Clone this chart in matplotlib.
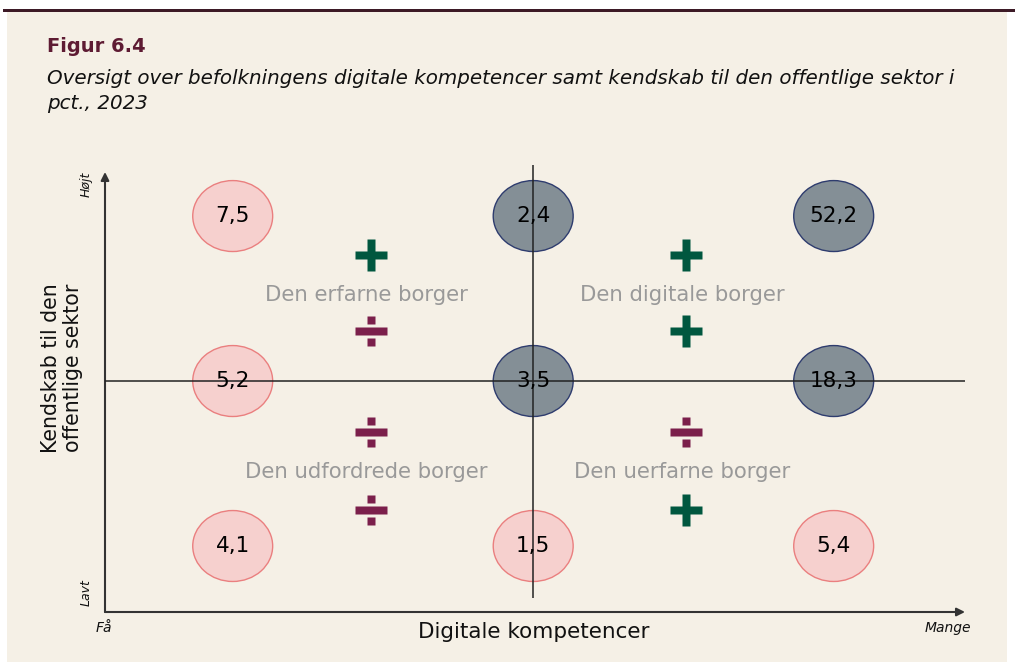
import numpy as np
import matplotlib
matplotlib.use("Agg")
import matplotlib.pyplot as plt
from matplotlib.patches import Ellipse, Rectangle
from matplotlib.path import Path

# values per cell, rows from bottom (Lavt) to top (Højt), columns Få -> Mange
values = [
    ["4,1", "1,5", "5,4"],
    ["5,2", "3,5", "18,3"],
    ["7,5", "2,4", "52,2"],
]
# which cells are drawn dark (the digitally skilled, informed group)
dark = [
    [False, False, False],
    [False, True, True],
    [False, True, True],
]
quadrant_labels = ["Den erfarne borger", "Den digitale borger",
                   "Den udfordrede borger", "Den uerfarne borger"]
# signs next to each quadrant label: (top sign, bottom sign)
quadrant_signs = [("+", "÷"), ("+", "+"), ("÷", "÷"), ("÷", "+")]

title = "Figur 6.4"
subtitle = ("Oversigt over befolkningens digitale kompetencer samt kendskab til den offentlige sektor i\n"
            "pct., 2023")
xlabel = "Digitale kompetencer"
ylabel = "Kendskab til den\noffentlige sektor"

BG = "#f5f0e6"
MAROON = "#5e1b33"
GREEN = "#00573f"
PURPLE = "#7b1f4b"
GREY_TXT = "#999999"

W, H = 1015, 662
fig = plt.figure(figsize=(W / 100, H / 100), dpi=100)
fig.patch.set_facecolor("white")


def fx(px):
    return px / W


def fy(py):
    return 1 - py / H


fig.patches.append(Rectangle((fx(7), fy(662)), fx(1000), fy(11) - fy(662),
                             transform=fig.transFigure, facecolor=BG, edgecolor="none", zorder=-5))
fig.patches.append(Rectangle((fx(3), fy(12)), fx(1012), fy(9) - fy(12),
                             transform=fig.transFigure, facecolor="#3d1a26", edgecolor="none", zorder=-4))

fig.text(fx(47), fy(46), title, fontsize=14, fontweight="bold", color=MAROON, va="center")
fig.text(fx(47), fy(91), subtitle, fontsize=14.3, style="italic", color="#111111",
         va="center", linespacing=1.35)

# axes: columns 0..2, rows 0..2
ax = fig.add_axes([fx(105), fy(612), fx(965) - fx(105), fy(172) - fy(612)])
ax.set_facecolor("none")
ax.set_xlim(-0.425, 2.437)
ax.set_ylim(-0.4, 2.267)
for s in ax.spines.values():
    s.set_visible(False)
ax.set_xticks([])
ax.set_yticks([])

# axis arrows
ax.annotate("", xy=(1, 0), xytext=(0, 0), xycoords="axes fraction",
            arrowprops=dict(arrowstyle="-|>", color="#333333", lw=1.5, mutation_scale=12,
                            shrinkA=0, shrinkB=0))
ax.annotate("", xy=(0, 1), xytext=(0, 0), xycoords="axes fraction",
            arrowprops=dict(arrowstyle="-|>", color="#333333", lw=1.5, mutation_scale=12,
                            shrinkA=0, shrinkB=0))

# quadrant dividers
ax.axhline(1, color="#222222", lw=1.1, zorder=3)
ax.vlines(1, -0.315, 2.31, color="#222222", lw=1.1, zorder=3, clip_on=False)

# bubbles
for r in range(3):
    for c in range(3):
        if dark[r][c]:
            fc, ec = "#848f96", "#2e3c6e"
        else:
            fc, ec = "#f6d0ce", "#ea7f7f"
        ax.add_patch(Ellipse((c, r), 0.266, 0.43, facecolor=fc, edgecolor=ec, lw=1.0, zorder=2))
        ax.text(c, r, values[r][c], ha="center", va="center", fontsize=15.5, color="black", zorder=4)

# sign markers
t = 0.13
plus_verts = [(-t, 0.5), (t, 0.5), (t, t), (0.5, t), (0.5, -t), (t, -t), (t, -0.5),
              (-t, -0.5), (-t, -t), (-0.5, -t), (-0.5, t), (-t, t), (-t, 0.5)]
plus_path = Path(plus_verts, [Path.MOVETO] + [Path.LINETO] * 11 + [Path.CLOSEPOLY])


def rect(x0, y0, x1, y1):
    return [(x0, y0), (x1, y0), (x1, y1), (x0, y1), (x0, y0)]


div_verts = rect(-0.5, -t, 0.5, t) + rect(-t, 0.22, t, 0.48) + rect(-t, -0.48, t, -0.22)
div_codes = ([Path.MOVETO] + [Path.LINETO] * 3 + [Path.CLOSEPOLY]) * 3
div_path = Path(div_verts, div_codes)

label_x = [0.46, 1.51, 0.46, 1.51]
label_y = [1.521, 1.521, 0.448, 0.448]
sign_dy = [(0.243, -0.218), (0.243, -0.218), (0.243, -0.23), (0.243, -0.23)]
for i, lab in enumerate(quadrant_labels):
    ax.text(label_x[i] - 0.015, label_y[i], lab, ha="center", va="center",
            fontsize=15.3, color=GREY_TXT, zorder=4)
    for sign, dy in zip(quadrant_signs[i], sign_dy[i]):
        if sign == "+":
            ax.plot(label_x[i], label_y[i] + dy, marker=plus_path, ms=23, color=GREEN,
                    mec="none", ls="none", zorder=4)
        else:
            ax.plot(label_x[i], label_y[i] + dy, marker=div_path, ms=23, color=PURPLE,
                    mec="none", ls="none", zorder=4)

# axis texts
fig.text(fx(62), fy(368), ylabel, rotation=90, ha="center", va="center", fontsize=14.8,
         color="#111111", linespacing=1.15)
fig.text(fx(534), fy(632), xlabel, ha="center", va="center", fontsize=15.5,
         color="#111111")
fig.text(fx(86), fy(184), "Højt", rotation=90, ha="center", va="center", fontsize=9,
         style="italic", color="#111111")
fig.text(fx(86), fy(593), "Lavt", rotation=90, ha="center", va="center", fontsize=9,
         style="italic", color="#111111")
fig.text(fx(96), fy(628), "Få", ha="left", va="center", fontsize=10,
         style="italic", color="#111111")
fig.text(fx(971), fy(628), "Mange", ha="right", va="center", fontsize=10,
         style="italic", color="#111111")

fig.savefig("out.png", dpi=100, facecolor=fig.get_facecolor())
